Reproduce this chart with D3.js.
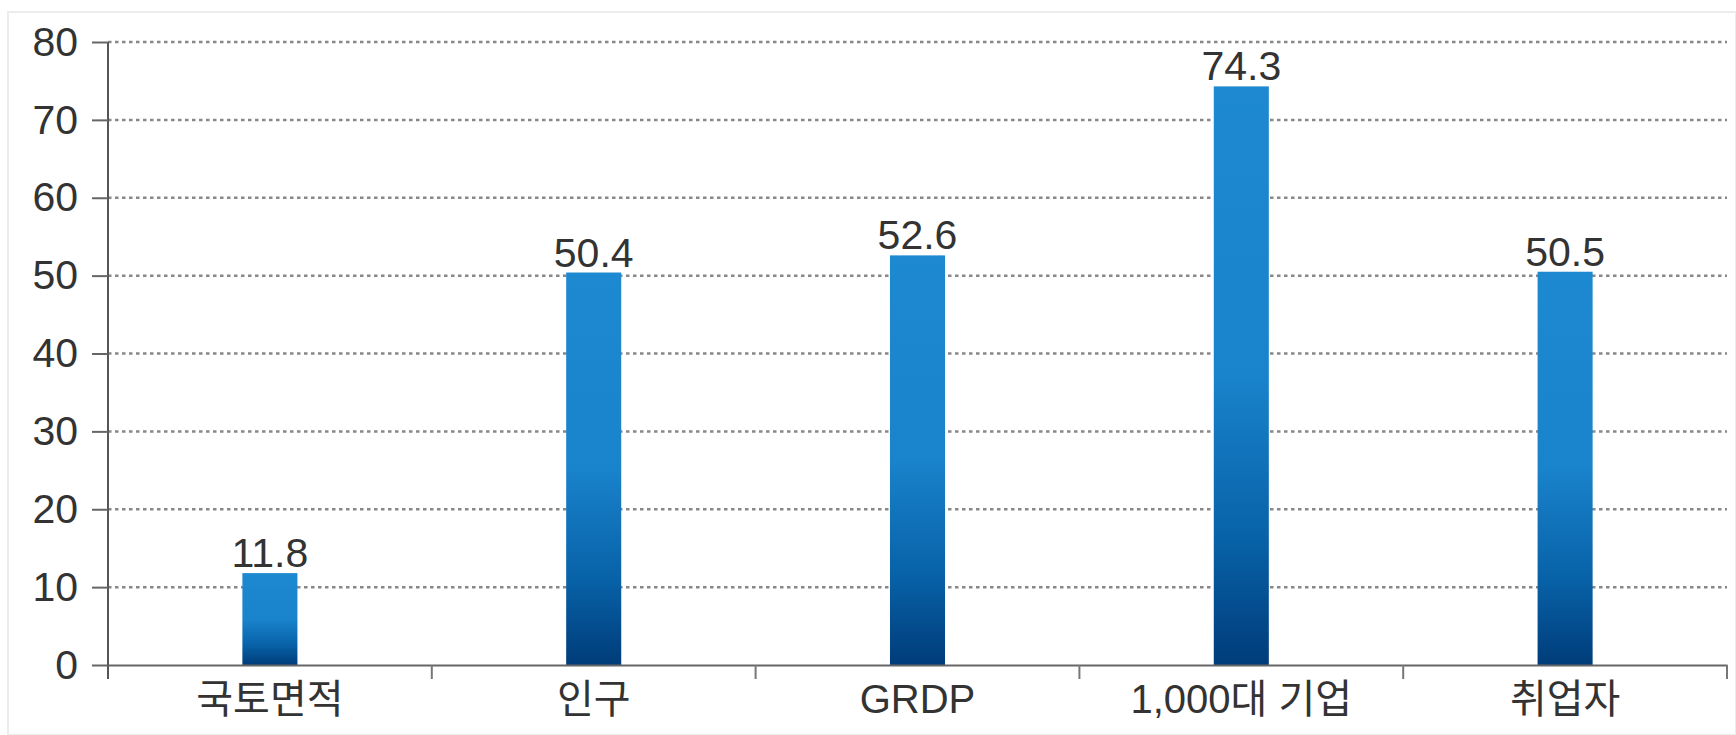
<!DOCTYPE html>
<html lang="ko">
<head>
    <meta charset="UTF-8">
    <title>Bar chart</title>
    <script src="https://d3js.org/d3.v7.min.js"></script>
    <style>
        body { margin: 0; background: #fff; }
        text { font-family: "Liberation Sans", "Noto Sans CJK KR", sans-serif; fill: #333; }
        .cat { font-family: "Liberation Sans", "Noto Sans CJK KR", sans-serif; }
    </style>
</head>
<body>
<div id="chart"></div>
<script>
    // data
    const categories = ["국토면적", "인구", "GRDP", "1,000대 기업", "취업자"];
    const values = [11.8, 50.4, 52.6, 74.3, 50.5];
    const yTicks = [0, 10, 20, 30, 40, 50, 60, 70, 80];

    const W = 1736, H = 735;
    const margin = { top: 42, right: 9, bottom: 70, left: 108 };

    const svg = d3.select("#chart").append("svg")
        .attr("width", W)
        .attr("height", H);

    // faint frame
    svg.append("rect")
        .attr("x", 8).attr("y", 12)
        .attr("width", W - 8).attr("height", H - 12)
        .attr("fill", "none")
        .attr("stroke", "#ececec")
        .attr("stroke-width", 2);

    const x = d3.scaleBand()
        .domain(categories)
        .range([margin.left, W - margin.right])
        .padding(0);

    const y = d3.scaleLinear()
        .domain([0, 80])
        .range([H - margin.bottom, margin.top]);

    // gradient for bars
    const defs = svg.append("defs");
    const grad = defs.append("linearGradient")
        .attr("id", "barGrad")
        .attr("x1", 0).attr("y1", 0).attr("x2", 0).attr("y2", 1);
    grad.append("stop").attr("offset", "0%").attr("stop-color", "#1d89d1");
    grad.append("stop").attr("offset", "50%").attr("stop-color", "#1983cb");
    grad.append("stop").attr("offset", "78%").attr("stop-color", "#0862a8");
    grad.append("stop").attr("offset", "100%").attr("stop-color", "#003c7a");

    // dotted gridlines
    svg.append("g")
        .selectAll("line")
        .data(yTicks.filter(d => d > 0))
        .enter().append("line")
        .attr("x1", margin.left)
        .attr("x2", W - margin.right)
        .attr("y1", d => y(d))
        .attr("y2", d => y(d))
        .attr("stroke", "#888")
        .attr("stroke-width", 2.5)
        .attr("stroke-dasharray", "3.5,3.5");

    // bars
    const bw = x.bandwidth() * 0.17;
    svg.selectAll(".bar")
        .data(values)
        .enter().append("rect")
        .attr("class", "bar")
        .attr("x", (d, i) => x(categories[i]) + x.bandwidth() / 2 - bw / 2)
        .attr("y", d => y(d))
        .attr("width", bw)
        .attr("height", d => y(0) - y(d))
        .attr("fill", "url(#barGrad)");

    // value labels
    svg.selectAll(".val")
        .data(values)
        .enter().append("text")
        .attr("class", "val")
        .attr("x", (d, i) => x(categories[i]) + x.bandwidth() / 2)
        .attr("y", d => y(d) - 6)
        .attr("text-anchor", "middle")
        .attr("font-size", 41)
        .text(d => d.toFixed(1));

    // y axis
    const yAxis = svg.append("g")
        .attr("transform", "translate(" + margin.left + ",0)")
        .call(d3.axisLeft(y).tickValues(yTicks).tickSize(16).tickPadding(14).tickSizeOuter(0));
    yAxis.select(".domain")
        .attr("stroke", "#555").attr("stroke-width", 2)
        .attr("d", "M0," + y(80) + "V" + (y(0) + 14));
    yAxis.selectAll(".tick line").attr("stroke", "#666").attr("stroke-width", 2)
        .attr("x2", -16).attr("x1", 0);
    yAxis.selectAll(".tick text")
        .attr("font-size", 41)
        .attr("font-family", "Liberation Sans, sans-serif")
        .attr("fill", "#333");

    // x axis
    const xAxis = svg.append("g")
        .attr("transform", "translate(0," + y(0) + ")")
        .call(d3.axisBottom(x).tickSize(0).tickPadding(14).tickSizeOuter(0));
    xAxis.select(".domain").attr("stroke", "#666").attr("stroke-width", 2);
    xAxis.selectAll(".tick text")
        .attr("class", "cat")
        .attr("font-size", 40)
        .attr("fill", "#333")
        .attr("dy", "0.85em");

    // band boundary ticks
    const bounds = categories.slice(1).map(c => x(c)).concat([x.range()[1]]);
    xAxis.append("g").selectAll("line")
        .data(bounds)
        .enter().append("line")
        .attr("x1", d => d).attr("x2", d => d)
        .attr("y1", 0).attr("y2", 14)
        .attr("stroke", "#777")
        .attr("stroke-width", 2);
</script>
</body>
</html>
